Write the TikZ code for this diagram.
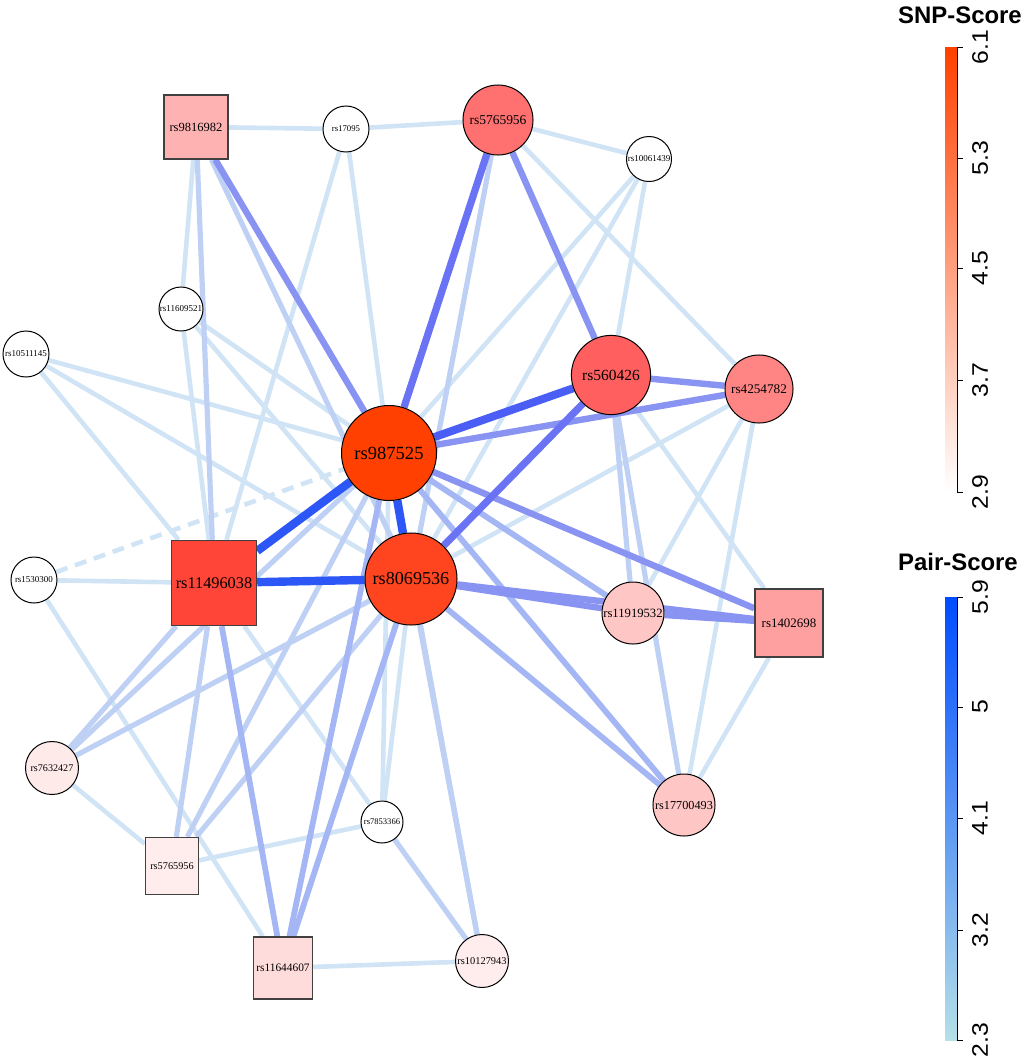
\documentclass[tikz,border=0pt]{standalone}
\usepackage{fontspec}
\setmainfont{Liberation Serif}
\setsansfont{Liberation Sans}
\usetikzlibrary{backgrounds}

\definecolor{pv}{HTML}{D0E4F6}
\definecolor{pl}{HTML}{BED1F4}
\definecolor{pm}{HTML}{A4B6F3}
\definecolor{pn}{HTML}{8893F2}
\definecolor{ps}{HTML}{6A73F3}
\definecolor{pd}{HTML}{4A5EF5}
\definecolor{pk}{HTML}{2C57F6}

\newcommand{\fsz}[1]{\fontsize{#1}{#1}\selectfont}

\tikzset{
  snp/.style={circle, draw=black, line width=0.25mm, inner sep=0pt, fill=white},
  snpsq/.style={rectangle, draw=black!75, line width=0.35mm, inner sep=0pt},
  ev/.style={pv, line width=1.15mm},
  el/.style={pl, line width=1.3mm},
  em/.style={pm, line width=1.45mm},
  en/.style={pn, line width=1.6mm},
  es/.style={ps, line width=1.8mm},
  ed/.style={pd, line width=2mm},
  ek/.style={pk, line width=2.1mm},
  ticklab/.style={font=\sffamily\fsz{16}, rotate=90, xscale=1.1}
}

\begin{document}
\begin{tikzpicture}[x=0.025cm, y=-0.025cm]
\useasboundingbox (0,0) rectangle (1024,1061);

% SNPs
\node[snpsq, fill={rgb,255:red,255;green,178;blue,178}, minimum size=16mm, font=\fsz{8.9}] (rs9816982) at (196,127) {rs9816982};
\node[snp, minimum size=11.5mm, font=\fsz{6.2}] (rs17095) at (346,129) {rs17095};
\node[snp, fill={rgb,255:red,255;green,112;blue,112}, minimum size=17.5mm, font=\fsz{9.6}] (rs5765956) at (498,120) {rs5765956};
\node[snp, minimum size=11.25mm, font=\fsz{6.4}] (rs10061439) at (649,159) {rs10061439};
\node[snp, minimum size=11mm, font=\fsz{6.4}] (rs11609521) at (181,309) {rs11609521};
\node[snp, minimum size=11.5mm, font=\fsz{6.4}] (rs10511145) at (26,354) {rs10511145};
\node[snp, fill={rgb,255:red,255;green,64;blue,0}, minimum size=23.75mm, font=\fsz{13.2}] (rs987525) at (389,453) {rs987525};
\node[snp, fill={rgb,255:red,255;green,95;blue,95}, minimum size=19.8mm, font=\fsz{11}] (rs560426) at (611,375) {rs560426};
\node[snp, fill={rgb,255:red,255;green,133;blue,133}, minimum size=17mm, font=\fsz{9.4}] (rs4254782) at (759,389) {rs4254782};
\node[snpsq, fill={rgb,255:red,255;green,68;blue,56}, minimum size=21.25mm, font=\fsz{11.6}] (rs11496038) at (214,583) {rs11496038};
\node[snp, fill={rgb,255:red,255;green,68;blue,32}, minimum size=23mm, font=\fsz{12.9}] (rs8069536) at (411,579) {rs8069536};
\node[snp, minimum size=11.5mm, font=\fsz{6.4}] (rs1530300) at (34,580) {rs1530300};
\node[snp, fill={rgb,255:red,255;green,198;blue,198}, minimum size=15.5mm, font=\fsz{9}] (rs11919532) at (633,613) {rs11919532};
\node[snpsq, fill={rgb,255:red,255;green,160;blue,160}, minimum size=17mm, font=\fsz{9.2}] (rs1402698) at (789,623) {rs1402698};
\node[snp, fill={rgb,255:red,255;green,198;blue,198}, minimum size=15.5mm, font=\fsz{8.7}] (rs17700493) at (684,805) {rs17700493};
\node[snp, fill={rgb,255:red,255;green,234;blue,234}, minimum size=13.25mm, font=\fsz{7.2}] (rs7632427) at (52,768) {rs7632427};
\node[snpsq, fill={rgb,255:red,255;green,237;blue,237}, minimum width=13.25mm, minimum height=14.25mm, font=\fsz{7.3}] (rs5765956b) at (172,866) {rs5765956};
\node[snp, minimum size=10.5mm, font=\fsz{6.1}] (rs7853366) at (382,822) {rs7853366};
\node[snpsq, fill={rgb,255:red,255;green,220;blue,220}, minimum width=14.75mm, minimum height=15.5mm, font=\fsz{8.1}] (rs11644607) at (283,968) {rs11644607};
\node[snp, fill={rgb,255:red,255;green,237;blue,237}, minimum size=13.25mm, font=\fsz{7.4}] (rs10127943) at (482,961) {rs10127943};

%-------------------------------------
\begin{scope}[on background layer]
\draw[ev] (rs9816982) -- (rs17095);
\draw[ev] (rs17095) -- (rs5765956);
\draw[ev] (rs5765956) -- (rs10061439);
\draw[ev] (rs5765956) -- (rs4254782);
\draw[ev] (rs10061439) -- (rs560426);
\draw[ev] (rs10061439) -- (rs987525);
\draw[ev] (rs10061439) -- (rs8069536);
\draw[ev] (rs11609521) -- (rs9816982);
\draw[ev] (rs11609521) -- (rs11496038);
\draw[ev] (rs11609521) -- (rs987525);
\draw[ev] (rs11609521) -- (rs8069536);
\draw[ev] (rs10511145) -- (rs987525);
\draw[ev] (rs10511145) -- (rs8069536);
\draw[ev] (rs10511145) -- (rs11496038);
\draw[ev] (rs1530300) -- (rs11496038);
\draw[ev] (rs1530300) -- (rs11644607);
\draw[ev, dash pattern=on 3mm off 2mm] (rs1530300) -- (rs987525);
\draw[ev] (rs17095) -- (rs11496038);
\draw[ev] (rs17095) -- (rs987525);
\draw[ev] (rs7632427) -- (rs5765956b);
\draw[ev] (rs5765956b) -- (rs7853366);
\draw[ev] (rs7853366) -- (rs987525);
\draw[ev] (rs7853366) -- (rs8069536);
\draw[ev] (rs11644607) -- (rs10127943);
\draw[ev] (rs4254782) -- (rs8069536);
\draw[ev] (rs4254782) -- (rs17700493);
\draw[ev] (rs4254782) -- (rs11919532);
\draw[ev] (rs1402698) -- (rs17700493);
\draw[ev] (rs560426) -- (rs1402698);
\draw[ev] (rs11496038) -- (rs7853366);

\draw[el] (rs9816982) -- (rs11496038);
\draw[el] (rs9816982) -- (rs8069536);
\draw[el] (rs5765956) -- (rs8069536);
\draw[el] (rs560426) -- (rs11919532);
\draw[el] (rs560426) -- (rs17700493);
\draw[el] (rs7632427) -- (rs11496038);
\draw[el] (rs7632427) -- (rs987525);
\draw[el] (rs7632427) -- (rs8069536);
\draw[el] (rs5765956b) -- (rs11496038);
\draw[el] (rs5765956b) -- (rs987525);
\draw[el] (rs5765956b) -- (rs8069536);
\draw[el] (rs7853366) -- (rs10127943);
\draw[el] (rs8069536) -- (rs10127943);
\draw[el] (rs987525) -- (rs10127943);

\draw[em] (rs11496038) -- (rs11644607);
\draw[em] (rs987525) -- (rs11644607);
\draw[em] (rs8069536) -- (rs11644607);
\draw[em] (rs987525) -- (rs17700493);
\draw[em] (rs8069536) -- (rs17700493);
\draw[em] (rs987525) -- (rs11919532);

\draw[en] (rs9816982) -- (rs987525);
\draw[en] (rs5765956) -- (rs560426);
\draw[en] (rs987525) -- (rs4254782);
\draw[en] (rs560426) -- (rs4254782);
\draw[en] (rs987525) -- (rs1402698);
\draw[en] (rs8069536) -- (rs11919532);
\draw[en] (rs8069536) -- (rs1402698);
\draw[en] (rs11919532) -- (rs1402698);

\draw[es] (rs5765956) -- (rs987525);
\draw[es] (rs8069536) -- (rs560426);
\draw[ed] (rs987525) -- (rs560426);
\draw[ek] (rs987525) -- (rs8069536);
\draw[ek] (rs987525) -- (rs11496038);
\draw[ek] (rs11496038) -- (rs8069536);
\end{scope}

%-------------------------------------
% SNP-Score legend
\node[font=\sffamily\bfseries\fsz{17}] (snptitle) at (960,15) {SNP-Score};
\shade[top color={rgb,255:red,255;green,64;blue,0}, middle color={rgb,255:red,255;green,140;blue,140}, bottom color=white] (945,47) rectangle (957,492);
\draw[line width=0.25mm] (957,47) -- (957,492);
\foreach \y/\v [count=\i] in {47/6.1,158/5.3,268/4.5,380/3.7,492/2.9} {
  \draw[line width=0.25mm] (957,\y) -- (963,\y);
  \node[ticklab] (snptick\i) at (980,\y) {\v};
}

% Pair-Score legend
\node[font=\sffamily\bfseries\fsz{17}] (pairtitle) at (958,562) {Pair-Score};
\shade[top color={rgb,255:red,0;green,76;blue,255}, middle color={rgb,255:red,104;green,128;blue,238}, bottom color={rgb,255:red,180;green,224;blue,232}] (945,597) rectangle (957,1040);
\draw[line width=0.25mm] (957,597) -- (957,1040);
\foreach \y/\v [count=\i] in {597/5.9,707/5,818/4.1,930/3.2,1040/2.3} {
  \draw[line width=0.25mm] (957,\y) -- (963,\y);
  \node[ticklab] (pairtick\i) at (980,\y) {\v};
}

\end{tikzpicture}
\end{document}
